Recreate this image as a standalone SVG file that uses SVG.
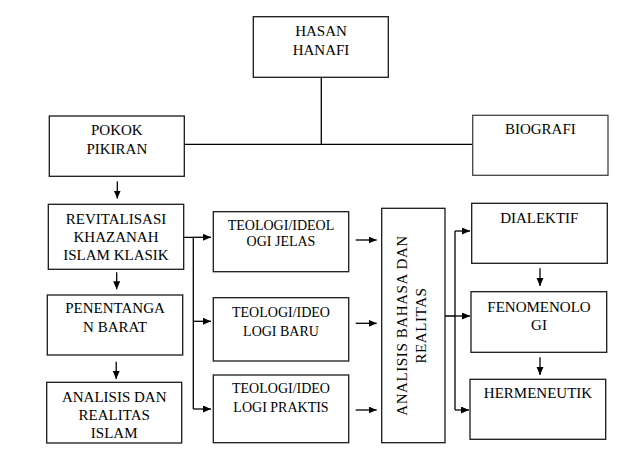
<svg xmlns="http://www.w3.org/2000/svg" width="635" height="473" viewBox="0 0 635 473">
<defs>
<marker id="ah" markerUnits="userSpaceOnUse" markerWidth="9" markerHeight="8" refX="8" refY="3.5" orient="auto">
<path d="M0,0 L8,3.5 L0,7 z" fill="#000"/>
</marker>
<style>
rect{fill:#fff;stroke:#1a1a1a;stroke-width:1.3}
text{font-family:"Liberation Serif","Times New Roman",serif;font-size:15px;fill:#000;text-anchor:middle}
.s{font-size:14px}
#connectors line,#connectors path{stroke:#000;stroke-width:1.3;fill:none}
.a{marker-end:url(#ah)}
</style>
</defs>
<rect x="0" y="0" width="635" height="473" style="fill:#fff;stroke:none"/>
<g id="connectors">
<path d="M321.3,77.3 V144.3 M184.3,144.3 H472.7"/>
<line class="a" x1="117.3" y1="181.5" x2="117.3" y2="198.5"/>
<line class="a" x1="116.7" y1="272.3" x2="116.7" y2="289.3"/>
<line class="a" x1="116.2" y1="361.7" x2="116.2" y2="379"/>
<path d="M183.7,237.3 H193.3 V409"/>
<line class="a" x1="193.3" y1="237.3" x2="211" y2="237.3"/>
<line class="a" x1="193.3" y1="321.3" x2="211" y2="321.3"/>
<line class="a" x1="193.3" y1="409" x2="211" y2="409"/>
<line class="a" x1="355.7" y1="240" x2="376.7" y2="240"/>
<line class="a" x1="355.7" y1="323.3" x2="376.7" y2="323.3"/>
<line class="a" x1="355.7" y1="410" x2="376.7" y2="410"/>
<path d="M445,316 H455 M455,231 V410"/>
<line class="a" x1="455" y1="231" x2="470" y2="231"/>
<line class="a" x1="455" y1="316" x2="470" y2="316"/>
<line class="a" x1="455" y1="410" x2="469" y2="410"/>
<line class="a" x1="540" y1="268.3" x2="540" y2="286"/>
<line class="a" x1="540" y1="357.3" x2="540" y2="375"/>
</g>
<g id="hasan"><rect x="253.3" y="16.7" width="135" height="60.6"/><text x="321" y="36">HASAN</text><text x="321" y="55">HANAFI</text></g>
<g id="pokok"><rect x="49.3" y="116" width="135" height="60.3"/><text x="116.8" y="135">POKOK</text><text x="116.8" y="154">PIKIRAN</text></g>
<g id="biografi"><rect x="472.7" y="115.3" width="135.3" height="60" style="stroke:#444"/><text x="540.3" y="134.3">BIOGRAFI</text></g>
<g id="revitalisasi"><rect x="48.3" y="204.3" width="135.4" height="65"/><text x="116" y="224.3">REVITALISASI</text><text x="116" y="242.3">KHAZANAH</text><text x="116" y="260">ISLAM KLASIK</text></g>
<g id="penentangan"><rect x="47.3" y="295" width="135.4" height="60"/><text x="115" y="313.3">PENENTANGA</text><text x="115" y="332.3">N BARAT</text></g>
<g id="analisis-realitas"><rect x="46.7" y="382.3" width="135" height="60.7"/><text x="114.2" y="401.7">ANALISIS DAN</text><text x="114.2" y="420">REALITAS</text><text x="114.2" y="437.7">ISLAM</text></g>
<g id="teologi-jelas"><rect x="213.3" y="211.7" width="135.4" height="60"/><text class="s" x="281" y="230">TEOLOGI/IDEOL</text><text class="s" x="281" y="245.7">OGI JELAS</text></g>
<g id="teologi-baru"><rect x="213.3" y="297.7" width="135.4" height="63.3"/><text class="s" x="281" y="316.7">TEOLOGI/IDEO</text><text class="s" x="281" y="336">LOGI BARU</text></g>
<g id="teologi-praktis"><rect x="213.3" y="375" width="135.4" height="67.7"/><text class="s" x="281" y="393.3">TEOLOGI/IDEO</text><text class="s" x="281" y="411.7">LOGI PRAKTIS</text></g>
<g id="analisis-bahasa"><rect x="381.7" y="208.3" width="63.3" height="234.4"/><text transform="translate(407.3,325.5) rotate(-90)" x="0" y="0" letter-spacing="0.6">ANALISIS BAHASA DAN</text><text transform="translate(426,325.5) rotate(-90)" x="0" y="0" letter-spacing="0.6">REALITAS</text></g>
<g id="dialektif"><rect x="471.7" y="203.3" width="135.6" height="60"/><text x="539.3" y="223.3">DIALEKTIF</text></g>
<g id="fenomenologi"><rect x="471" y="291.7" width="135.7" height="60.6"/><text x="539" y="311.7">FENOMENOLO</text><text x="539" y="330">GI</text></g>
<g id="hermeneutik"><rect x="470" y="379.3" width="135.7" height="60"/><text x="538" y="398.3">HERMENEUTIK</text></g>
</svg>
